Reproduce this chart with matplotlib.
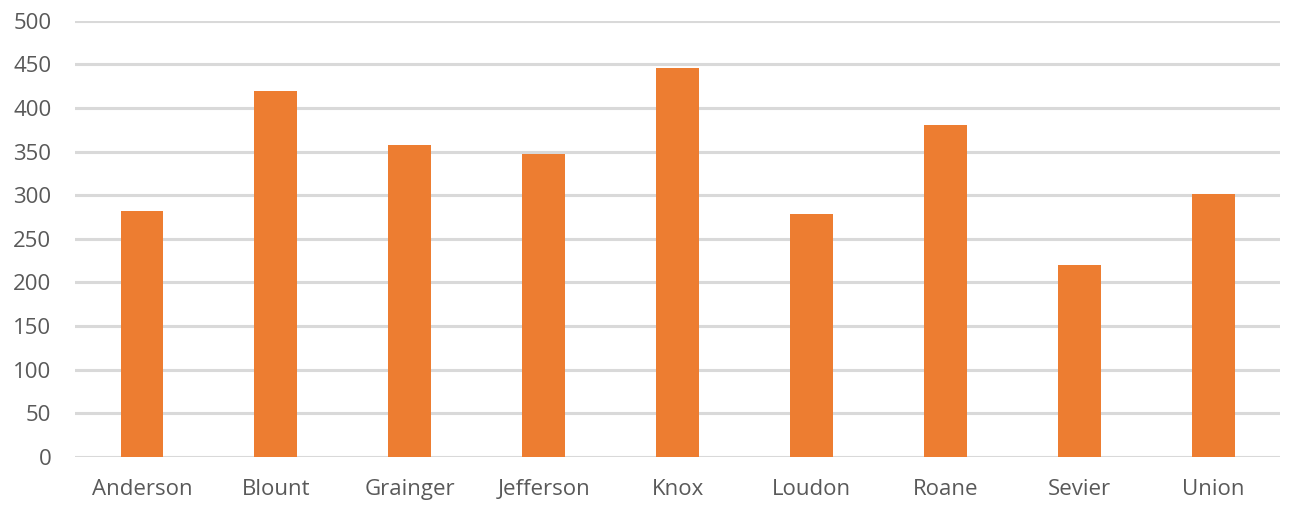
import matplotlib.pyplot as plt

counties = ["Anderson", "Blount", "Grainger", "Jefferson", "Knox",
            "Loudon", "Roane", "Sevier", "Union"]
values = [282, 419, 357, 347, 446, 278, 381, 220, 301]
y_ticks = [0, 50, 100, 150, 200, 250, 300, 350, 400, 450, 500]

plt.rcParams['font.family'] = ['Open Sans', 'DejaVu Sans']

fig = plt.figure(figsize=(12.91, 5.18), dpi=100)
ax = fig.add_axes([0.0581, 0.1178, 0.9334, 0.8423])

ax.bar(range(len(counties)), values, width=0.32, color="#ED7D31", zorder=3)

ax.set_xlim(-0.5, len(counties) - 0.5)
ax.set_ylim(0, 500)
ax.set_yticks(y_ticks)
ax.set_xticks(range(len(counties)))
ax.set_xticklabels(counties)
ax.yaxis.grid(True, color="#d9d9d9", linewidth=2.2, zorder=0)
ax.set_axisbelow(True)

for side in ["top", "right", "left", "bottom"]:
    ax.spines[side].set_visible(False)

ax.tick_params(axis="y", length=0, pad=17, labelsize=16, labelcolor="#595959")
ax.tick_params(axis="x", length=0, pad=16, labelsize=16, labelcolor="#595959")

fig.savefig("out.png", dpi=100)
